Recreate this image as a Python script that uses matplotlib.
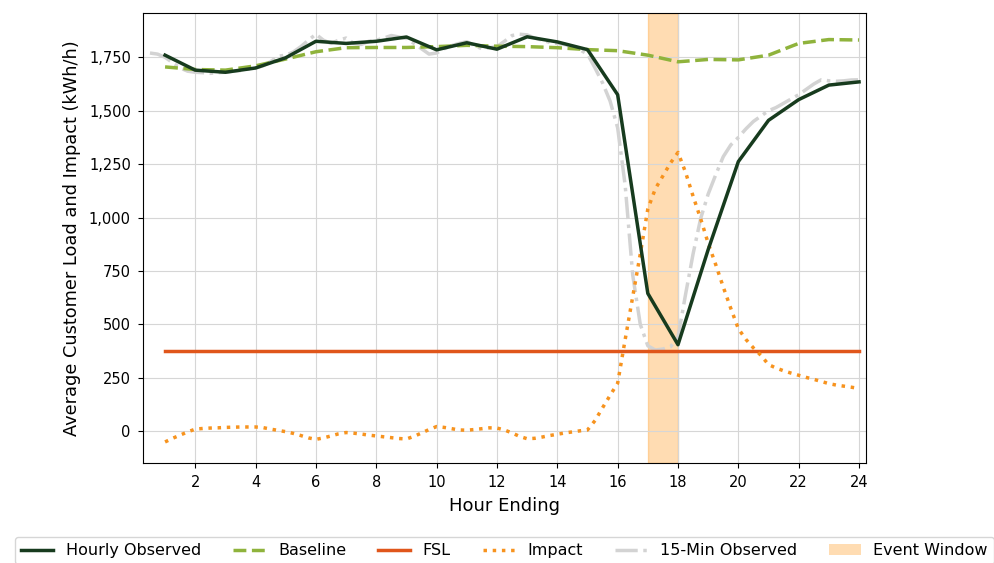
import matplotlib
matplotlib.use("Agg")
import matplotlib.pyplot as plt
from matplotlib.ticker import FuncFormatter, MultipleLocator
from matplotlib.lines import Line2D
from matplotlib.patches import Patch

# ---------------- data ----------------
hours = list(range(1, 25))
hourly_observed = [1760, 1690, 1680, 1700, 1748, 1825, 1815, 1825, 1845, 1785,
                   1818, 1788, 1846, 1822, 1786, 1575, 645, 405, 850, 1262,
                   1455, 1552, 1620, 1635]
baseline = [1705, 1693, 1690, 1710, 1742, 1776, 1795, 1796, 1796, 1800,
            1806, 1802, 1800, 1795, 1786, 1781, 1760, 1729, 1740, 1738,
            1760, 1815, 1833, 1831]
fsl_value = 377
fsl_hours = [1, 24]

impact_hours = [1 + 0.25 * i for i in range(93)]
impact = [-50, -33, -18, -3, 10, 13, 15, 16, 18, 19, 20, 20,
          20, 17, 10, 4, -2, -10, -20, -31, -38, -31, -22, -12,
          -6, -9, -13, -18, -22, -26, -30, -34, -36, -24, -8, 8,
          22, 18, 12, 6, 5, 8, 12, 16, 15, 6, -8, -24,
          -35, -33, -27, -20, -14, -8, -3, 2, 6, 50, 110, 168,
          225, 430, 630, 830, 1040, 1135, 1195, 1255, 1305, 1212, 1100, 995,
          880, 780, 675, 575, 480, 430, 390, 355, 312, 296, 283, 272,
          262, 252, 243, 233, 223, 216, 211, 206, 200]

min15_hours = [0.5 + 0.25 * i for i in range(95)]
min15_observed = [1770, 1765, 1750, 1725, 1700, 1685, 1680, 1678, 1675, 1678,
                  1680, 1685, 1688, 1695, 1700, 1710, 1730, 1755, 1760, 1775,
                  1800, 1830, 1858, 1830, 1815, 1830, 1840, 1815, 1810, 1825,
                  1830, 1840, 1852, 1845, 1838, 1815, 1790, 1765, 1770, 1790,
                  1805, 1815, 1823, 1805, 1790, 1795, 1800, 1825, 1852, 1858,
                  1855, 1840, 1830, 1820, 1815, 1810, 1800, 1785, 1765, 1700,
                  1630, 1545, 1420, 1150, 730, 500, 400, 380, 385, 395,
                  440, 640, 830, 995, 1110, 1200, 1285, 1340, 1375, 1415,
                  1450, 1475, 1500, 1515, 1535, 1555, 1575, 1600, 1625, 1645,
                  1640, 1638, 1640, 1644, 1645]

event_start, event_end = 17, 18

x_ticks = list(range(2, 25, 2))

# ---------------- plot ----------------
c_hourly = "#173b1e"
c_base = "#8fb33c"
c_fsl = "#e0561b"
c_imp = "#f7931e"
c_min15 = "#d3d3d3"
c_event = "darkorange"

fig = plt.figure(figsize=(9.94, 5.63), dpi=100)
ax = fig.add_axes([0.1442, 0.1782, 0.7270, 0.7982])

ax.axvspan(event_start, event_end, color=c_event, alpha=0.3, zorder=1)
ax.plot(min15_hours, min15_observed, color=c_min15, lw=2.5, ls="-.", zorder=2)
ax.plot(hours, baseline, color=c_base, lw=2.5, ls="--", zorder=3)
ax.plot(fsl_hours, [fsl_value, fsl_value], color=c_fsl, lw=2.5, zorder=3)
ax.plot(impact_hours, impact, color=c_imp, lw=2.5, ls=":", zorder=4)
ax.plot(hours, hourly_observed, color=c_hourly, lw=2.5, zorder=5)

ax.set_xlim(0.28, 24.23)
ax.set_ylim(-147, 1956)
ax.set_xticks(x_ticks)
ax.yaxis.set_major_locator(MultipleLocator(250))
ax.yaxis.set_major_formatter(FuncFormatter(lambda v, p: f"{v:,.0f}"))
ax.tick_params(labelsize=10.5, pad=5.5)
ax.grid(True, color="#d6d6d6", lw=0.8)
ax.set_xlabel("Hour Ending", fontsize=13, labelpad=5)
ax.set_ylabel("Average Customer Load and Impact (kWh/h)", fontsize=12.8,
              labelpad=6)

handles = [
    Line2D([], [], color=c_hourly, lw=2.5),
    Line2D([], [], color=c_base, lw=2.5, ls="--"),
    Line2D([], [], color=c_fsl, lw=2.5),
    Line2D([], [], color=c_imp, lw=2.5, ls=":"),
    Line2D([], [], color=c_min15, lw=2.5, ls="-."),
    Patch(facecolor=c_event, alpha=0.3),
]
labels = ["Hourly Observed", "Baseline", "FSL", "Impact", "15-Min Observed",
          "Event Window"]
ax.legend(handles, labels, loc="upper center", bbox_to_anchor=(0.5, -0.147),
          ncol=6, fontsize=11.5, frameon=True)

fig.savefig("out.png", dpi=100)
